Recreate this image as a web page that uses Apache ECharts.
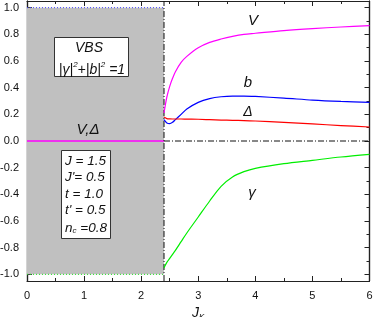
<!DOCTYPE html>
<html><head><meta charset="utf-8">
<script src="https://cdn.jsdelivr.net/npm/echarts@6/dist/echarts.min.js"></script>
<style>html,body{margin:0;padding:0;background:#fff}#c{width:374px;height:317px}</style>
</head><body><div id="c"></div>
<script>
// Data
const jk     = [2.4, 2.45, 2.5, 2.55, 2.6, 2.7, 2.8, 3.0, 3.2, 3.4, 3.6, 3.8, 4.0, 4.5, 5.0, 5.5, 6.0];
const V      = [0.21, 0.33, 0.41, 0.47, 0.52, 0.59, 0.635, 0.70, 0.74, 0.765, 0.785, 0.80, 0.808, 0.828, 0.843, 0.855, 0.865];
const bVal   = [0.16, 0.135, 0.13, 0.14, 0.16, 0.20, 0.24, 0.29, 0.318, 0.332, 0.337, 0.337, 0.334, 0.322, 0.307, 0.297, 0.29];
const Delta  = [0.18, 0.168, 0.166, 0.165, 0.165, 0.165, 0.164, 0.163, 0.16, 0.157, 0.155, 0.153, 0.15, 0.14, 0.128, 0.116, 0.105];
const gamma  = [-0.95, -0.91, -0.88, -0.85, -0.82, -0.755, -0.69, -0.57, -0.45, -0.34, -0.27, -0.23, -0.205, -0.17, -0.145, -0.12, -0.10];
const jkC    = 2.4;          // critical J_K (VBS phase boundary)
const vbsB   = 1;            // b in VBS phase
const vbsG   = -1;           // gamma in VBS phase
const vbsVD  = 0;            // V, Delta in VBS phase
const xMin = 0, xMax = 6;
const yMin = -1.05, yMax = 1.05;
const yTicks = [-1.0, -0.8, -0.6, -0.4, -0.2, 0.0, 0.2, 0.4, 0.6, 0.8, 1.0];
const yMinorTicks = [-0.9, -0.7, -0.5, -0.3, -0.1, 0.1, 0.3, 0.5, 0.7, 0.9];

const zip = (xs, ys) => xs.map((x, i) => [x, ys[i]]);
const FONT = 'Liberation Sans, Arial, sans-serif';
const AX = '#222';

function yAx(pos, major, showLabel) {
  return {
    type: 'value', position: pos, min: yMin, max: yMax,
    axisLine: { show: true, lineStyle: { color: AX, width: 1.2 } },
    axisTick: { show: true, inside: true, length: major ? 5 : 3, customValues: major ? yTicks : yMinorTicks, lineStyle: { color: AX } },
    axisLabel: showLabel ? { show: true, customValues: yTicks, formatter: v => v.toFixed(1), color: '#111', fontSize: 11, fontFamily: FONT, margin: 8 } : { show: false },
    splitLine: { show: false }
  };
}
function xAx(pos, showLabel) {
  return {
    type: 'value', position: pos, min: xMin, max: xMax, interval: 1,
    axisLine: { show: true, onZero: false, lineStyle: { color: AX, width: 1.2 } },
    axisTick: { show: true, inside: true, length: 5, lineStyle: { color: AX } },
    minorTick: { show: true, splitNumber: 2, length: 3, lineStyle: { color: AX } },
    axisLabel: showLabel ? { show: true, color: '#111', fontSize: 11, fontFamily: FONT, margin: 9 } : { show: false },
    splitLine: { show: false }, minorSplitLine: { show: false },
    name: showLabel ? '{j|J}{k|K}' : '', nameLocation: 'middle', nameGap: 19,
    nameTextStyle: { rich: { j: { fontSize: 14, fontStyle: 'italic', fontFamily: FONT, color: '#111' }, k: { fontSize: 8, fontStyle: 'italic', fontFamily: FONT, color: '#111', padding: [8, 0, 0, 0] } } }
  };
}

const chart = echarts.init(document.getElementById('c'), null, { renderer: 'canvas' });
const dashDot = [6, 2, 1, 2];
const option = {
  animation: false,
  grid: { left: 27, right: 4.5, top: 1, bottom: 36, containLabel: false, outerBoundsMode: 'none' },
  xAxis: [xAx('bottom', true), xAx('top', false)],
  yAxis: [yAx('left', true, true), yAx('left', false, false), yAx('right', true, false), yAx('right', false, false)],
  series: [
    { type: 'line', data: [[xMin, vbsB], [jkC, vbsB]], symbol: 'none', z: 1,
      lineStyle: { color: '#c0c0c0', width: 0 },
      areaStyle: { color: '#c0c0c0', origin: vbsG, opacity: 1 } },
    { type: 'line', data: [[xMin, vbsB], [jkC, vbsB]], symbol: 'none', lineStyle: { color: '#4040ff', width: 1, type: [1, 2] } },
    { type: 'line', data: [[xMin, vbsG], [jkC, vbsG]], symbol: 'none', lineStyle: { color: '#20e020', width: 1, type: [1, 2] } },
    { type: 'line', data: [[xMin, vbsVD], [jkC, vbsVD]], symbol: 'none', lineStyle: { color: '#ff00ff', width: 1.3 } },
    { type: 'line', data: [[jkC, yMin], [jkC, yMax]], symbol: 'none', lineStyle: { color: '#111', width: 1, type: dashDot } },
    { type: 'line', data: [[jkC, 0], [xMax, 0]], symbol: 'none', lineStyle: { color: '#111', width: 1, type: dashDot } },
    { name: 'V', type: 'line', data: zip(jk, V), smooth: 0.3, symbol: 'none', lineStyle: { color: '#ff00ff', width: 1.2 } },
    { name: 'b', type: 'line', data: zip(jk, bVal), smooth: 0.3, symbol: 'none', lineStyle: { color: '#0000ff', width: 1.2 } },
    { name: 'Delta', type: 'line', data: zip(jk, Delta), smooth: 0.3, symbol: 'none', lineStyle: { color: '#ff0000', width: 1.2 } },
    { name: 'gamma', type: 'line', data: zip(jk, gamma), smooth: 0.3, symbol: 'none', lineStyle: { color: '#00ee00', width: 1.2 } }
  ]
};
chart.setOption(option);

const it = (s) => ({ fontStyle: 'italic', fontFamily: FONT, fill: '#111', fontSize: s });
const txt = (x, y, t, s, rich) => ({ type: 'text', x: x, y: y, z: 50,
  style: Object.assign({ text: t, align: 'center', verticalAlign: 'middle', rich: rich || {} }, it(s)) });
const ltxt = (x, y, t, rich) => ({ type: 'text', x: x, y: y, z: 50,
  style: Object.assign({ text: t, align: 'left', verticalAlign: 'middle', rich: rich || {} }, it(13.5)) });
const richBase = {
  n: { fontStyle: 'italic', fontFamily: FONT, fontSize: 14, lineHeight: 16, verticalAlign: 'bottom' },
  s: { fontStyle: 'italic', fontFamily: FONT, fontSize: 8, lineHeight: 16, verticalAlign: 'top' },
  m: { fontStyle: 'italic', fontFamily: FONT, fontSize: 13.5, lineHeight: 16, verticalAlign: 'bottom' },
  d: { fontStyle: 'italic', fontFamily: FONT, fontSize: 8, lineHeight: 10, verticalAlign: 'bottom', padding: [4, 0, 0, 0] }
};
chart.setOption({
  graphic: [
    { type: 'rect', shape: { x: 54.5, y: 37.5, width: 74, height: 39 }, z: 40, style: { fill: '#fff', stroke: '#333', lineWidth: 1 } },
    txt(89, 48, 'VBS', 14),
    txt(92, 69, '{n||γ|}{s|2}{n|+|b|}{s|2}{n| =1}', 14, richBase),
    { type: 'rect', shape: { x: 61.5, y: 150.5, width: 49, height: 88 }, z: 40, style: { fill: '#fff', stroke: '#333', lineWidth: 1 } },
    ltxt(65, 161, 'J = 1.5'),
    ltxt(65, 177.5, "J'= 0.5"),
    ltxt(65, 194, 't = 1.0'),
    ltxt(65, 210.5, "t' = 0.5"),
    ltxt(65, 227, '{m|n}{d|c}{m| =0.8}', richBase),
    txt(88, 130, 'V,Δ', 15),
    txt(253, 21, 'V', 15),
    txt(248, 83, 'b', 15),
    txt(248, 112, 'Δ', 14),
    txt(252, 193, 'γ', 15)
  ]
});
</script></body></html>
